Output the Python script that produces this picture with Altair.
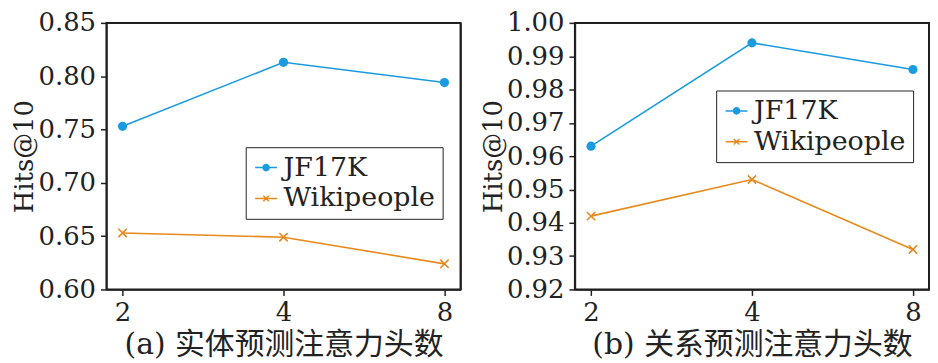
import altair as alt
import pandas as pd

heads = ["2", "4", "8"]
series = ["JF17K", "Wikipeople"]
a_jf17k = [0.753, 0.813, 0.794]
a_wiki = [0.653, 0.649, 0.624]
b_jf17k = [0.963, 0.994, 0.986]
b_wiki = [0.942, 0.953, 0.932]
colors = ["#1a9be0", "#e8891c"]
a_ticks = [0.60, 0.65, 0.70, 0.75, 0.80, 0.85]
b_ticks = [0.92, 0.93, 0.94, 0.95, 0.96, 0.97, 0.98, 0.99, 1.00]

FONT = "DejaVu Serif, Noto Sans CJK SC"
LEG_CIRCLE = "M-1,0H1M0.28,0A0.28,0.28 0 1,1 -0.28,0A0.28,0.28 0 1,1 0.28,0Z"
LEG_CROSS = "M-1,0H1M-0.25,-0.25L0.25,0.25M-0.25,0.25L0.25,-0.25"
W, H = 356, 268


def make_df(jf, wk):
    rows = []
    for h, v in zip(heads, jf):
        rows.append({"heads": h, "value": v, "series": series[0]})
    for h, v in zip(heads, wk):
        rows.append({"heads": h, "value": v, "series": series[1]})
    return pd.DataFrame(rows)


def panel(jf, wk, ticks, title, legend_x, legend_y):
    df = make_df(jf, wk)
    xscale = alt.Scale(type="point", padding=0.1)
    yscale = alt.Scale(domain=[ticks[0], ticks[-1]], nice=False, zero=False)
    x = alt.X("heads:O", sort=heads, title=title, scale=xscale,
              axis=alt.Axis(labelAngle=0, labelFontSize=26, titleFontSize=30,
                            titleFontWeight="normal", labelFont=FONT, titleFont=FONT,
                            titlePadding=4, labelPadding=4, tickSize=6,
                            tickColor="#222", domainColor="#222", tickWidth=1.5,
                            domainWidth=1.5, labelColor="#222", titleColor="#222"))
    y = alt.Y("value:Q", title="Hits@10", scale=yscale,
              axis=alt.Axis(values=ticks, format=".2f", labelFontSize=26, titleFontSize=26,
                            titleFontWeight="normal", labelFont=FONT, titleFont=FONT,
                            titlePadding=0, labelPadding=5, tickSize=6, grid=False,
                            tickColor="#222", domainColor="#222", tickWidth=1.5,
                            domainWidth=1.5, labelColor="#222", titleColor="#222"))
    xn = alt.X("heads:O", sort=heads, scale=xscale, axis=None)
    yn = alt.Y("value:Q", scale=yscale, axis=None)
    xt = alt.X("heads:O", sort=heads, scale=xscale, title=None,
               axis=alt.Axis(orient="top", labels=False, ticks=False, grid=False,
                             domainColor="#222", domainWidth=1.5, title=None))
    yr = alt.Y("value:Q", scale=yscale, title=None,
               axis=alt.Axis(orient="right", labels=False, ticks=False, grid=False,
                             domainColor="#222", domainWidth=1.5, title=None))
    cscale = alt.Scale(domain=series, range=colors)
    legend = alt.Legend(
        title=None, orient="none", legendX=legend_x, legendY=legend_y,
        labelFont=FONT, labelFontSize=27, labelColor="#222",
        strokeColor="#222", fillColor="white", padding=7,
        symbolSize=484, rowPadding=3, labelOffset=4,
        symbolOpacity=1, symbolStrokeWidth=1.5,
    )
    base = alt.Chart(df)
    jf_base = base.transform_filter(alt.datum.series == series[0])
    wk_base = base.transform_filter(alt.datum.series == series[1])
    jf_line = jf_base.mark_line(strokeWidth=1.6, color=colors[0]).encode(x=x, y=y)
    wk_line = wk_base.mark_line(strokeWidth=1.6, color=colors[1]).encode(x=xn, y=yn)
    dots = jf_base.mark_point(shape="circle", filled=True, size=85, opacity=1,
                              color=colors[0]).encode(x=xn, y=yn)
    crosses = wk_base.mark_point(shape="M-1,-1L1,1M-1,1L1,-1", filled=False, size=70,
                                 strokeWidth=1.6, opacity=1, color=colors[1]).encode(x=xn, y=yn)
    legend_layer = base.mark_point(filled=True).encode(
        x=xn, y=yn,
        opacity=alt.value(0),
        fill=alt.Fill("series:N", sort=series, scale=cscale, legend=legend),
        stroke=alt.Stroke("series:N", sort=series, scale=cscale, legend=legend),
        shape=alt.Shape("series:N", sort=series,
                        scale=alt.Scale(domain=series, range=[LEG_CIRCLE, LEG_CROSS]),
                        legend=legend),
    )
    frame = jf_base.mark_line(opacity=0).encode(x=xt, y=yr)
    return alt.layer(jf_line, wk_line, dots, crosses, legend_layer, frame).resolve_axis(
        x="independent", y="independent"
    ).properties(width=W, height=H)


pa = panel(a_jf17k, a_wiki, a_ticks, "(a) 实体预测注意力头数", 140, 125)
pb = panel(b_jf17k, b_wiki, b_ticks, "(b) 关系预测注意力头数", 142, 68)

chart = alt.hconcat(pa, pb, spacing=18).resolve_scale(
    fill="independent", stroke="independent", shape="independent"
).configure(
    padding={"left": 3, "top": 0, "right": 0, "bottom": 0}, background="white",
    view=alt.ViewConfig(stroke="#1a1a1a", strokeWidth=2),
)

chart.save("out.html", embed_options={"renderer": "svg", "actions": False})
